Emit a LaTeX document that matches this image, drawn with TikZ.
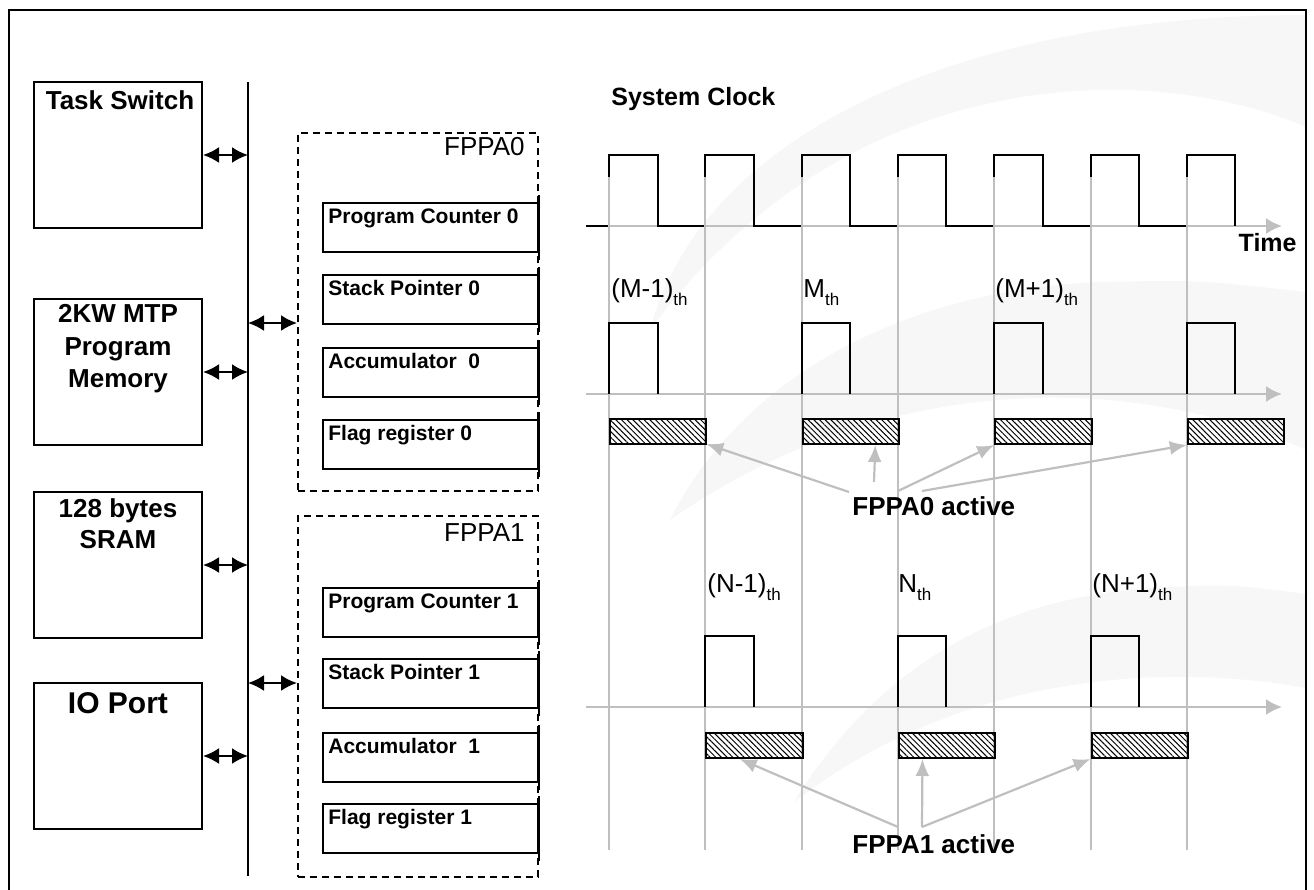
\documentclass[tikz,border=0pt]{standalone}
\usepackage{fontspec}
\setmainfont{Liberation Sans}
\usetikzlibrary{arrows.meta,patterns.meta,calc}
\newcommand\thsub[1]{\raisebox{-4pt}{\fontsize{8.5}{9}\selectfont #1}}
\begin{document}
\begin{tikzpicture}[x=0.5pt,y=-0.5pt,
  wm/.style={fill=black!3},
  frame/.style={line width=1pt},
  blk/.style={draw,line width=1pt,minimum width=84pt,minimum height=73pt,inner sep=0pt,anchor=north west},
  blktxt/.style={font=\fontsize{12.5}{16}\selectfont\bfseries,align=center,anchor=north,inner sep=0pt},
  dbl/.style={line width=1.1pt,{Latex[length=8pt,width=8pt]}-{Latex[length=8pt,width=8pt]}},
  fppa/.style={draw,dash pattern=on 3.5pt off 2.5pt,line width=1pt,minimum width=120pt,inner sep=0pt,anchor=north west},
  fppatxt/.style={font=\fontsize{13}{15}\selectfont,anchor=base east,inner sep=0pt},
  reg/.style={draw,line width=0.9pt,minimum width=107.5pt,minimum height=24.5pt,inner sep=0pt,anchor=north west},
  regtxt/.style={font=\fontsize{10.5}{12}\selectfont\bfseries,anchor=base west,inner sep=0pt},
  wave/.style={line width=1pt,line join=miter},
  gridl/.style={black!25,line width=1pt},
  axis/.style={black!25,line width=1.1pt,-{Latex[length=8pt,width=8pt]}},
  hatchbox/.style={draw,line width=1pt,minimum width=48.15pt,minimum height=12.5pt,inner sep=0pt,anchor=north west,
    pattern={Lines[angle=-45,distance=2pt,line width=0.5pt]}},
  garrow/.style={black!25,line width=1.1pt,-{Latex[length=8.5pt,width=7pt]}},
  lbl/.style={font=\fontsize{13}{15}\selectfont,anchor=base west,inner sep=0pt},
  blbl/.style={font=\fontsize{12.5}{15}\selectfont\bfseries,anchor=base west,inner sep=0pt}
]
\useasboundingbox (0,0) rectangle (1314,890);
% faint background swooshes
\fill[wm] (650,330) .. controls (700,140) and (950,15) .. (1306,15) -- (1306,127) .. controls (1150,60) and (850,60) .. (650,330) -- cycle;
\fill[wm] (670,520) .. controls (740,380) and (900,290) .. (1100,282) .. controls (1200,280) .. (1306,292) -- (1306,450) .. controls (1150,380) and (900,360) .. (670,520) -- cycle;
\fill[wm] (793,803) .. controls (870,680) and (980,600) .. (1150,588) .. controls (1230,584) .. (1306,594) -- (1306,688) .. controls (1150,660) and (950,680) .. (793,803) -- cycle;
% outer frame
\draw[frame] (9,900) -- (9,10) -- (1306,10) -- (1306,900);
% left blocks
\node[blk] (ts) at (33,81) {};
\node[blk] (mem) at (33,298) {};
\node[blk] (sram) at (33,491) {};
\node[blk] (io) at (33,682) {};
\node[blktxt,font=\fontsize{13}{16}\selectfont\bfseries] (tst) at ($(ts.north)+(2,9)$) {Task Switch};
\node[blktxt,font=\fontsize{13}{16.3}\selectfont\bfseries] (memt) at ($(mem.north)+(0,6)$) {2KW MTP\\Program\\Memory};
\node[blktxt,font=\fontsize{13}{15.6}\selectfont\bfseries] (sramt) at ($(sram.north)+(0,7)$) {128 bytes\\SRAM};
\node[blktxt,font=\fontsize{15}{18}\selectfont\bfseries] (iot) at ($(io.north)+(0,10)$) {IO Port};
% bus
\coordinate (busT) at (248,82);
\coordinate (busB) at (248,876);
\draw[line width=1pt] (busT) -- (busB);
\draw[dbl] (ts.east) -- (ts.east -| busT);
\draw[dbl] (mem.east) -- (mem.east -| busT);
\draw[dbl] (sram.east) -- (sram.east -| busT);
\draw[dbl] (io.east) -- (io.east -| busT);
% FPPA boxes
\node[fppa,minimum height=179pt] (fp0) at (297,132) {};
\node[fppa,minimum height=180.5pt] (fp1) at (297,515) {};
\node[fppatxt] (fp0t) at (525,155) {FPPA0};
\node[fppatxt] (fp1t) at (525,541) {FPPA1};
\coordinate (f0in) at (fp0.west |- 0,323);
\coordinate (f1in) at (fp1.west |- 0,683);
\draw[dbl] (f0in -| busT) -- (f0in);
\draw[dbl] (f1in -| busT) -- (f1in);
% registers
\foreach \nm/\lab/\yy in {pc0/Program Counter 0/202, sp0/Stack Pointer 0/274, acc0/Accumulator~~0/347, fl0/Flag register 0/419,
                          pc1/Program Counter 1/587, sp1/Stack Pointer 1/658, acc1/Accumulator~~1/732, fl1/Flag register 1/803}{
  \node[reg] (\nm) at (322,\yy) {};
  \node[regtxt] (t\nm) at ($(\nm.north west)+(6,21)$) {\lab};
  \draw[line width=1pt] ($(\nm.north east)+(0,-7)$) -- ($(\nm.south east)+(0,7)$);
}
% system clock
\node[blbl] (sysclk) at (611,105) {System Clock};
\coordinate (clkS) at (586,226);
\coordinate (clkE) at (1282,226);
\draw[axis] (clkS) -- (clkE);
\draw[wave] (clkS) \foreach \i in {0,...,6}{ -- ({609+96.3*\i},226) -- ({609+96.3*\i},155) -- ({657.5+96.3*\i},155) -- ({657.5+96.3*\i},226)};
\node[blbl,anchor=base east] (time) at (1297,251) {Time};
% grid lines
\foreach \i in {0,...,6} \draw[gridl] ({609+96.3*\i},177) -- ({609+96.3*\i},850);
% FPPA0 row
\coordinate (a0S) at (586,394);
\coordinate (a0E) at (1282,394);
\draw[axis] (a0S) -- (a0E);
\foreach \i in {0,2,4,6} \draw[wave] ({609+96.3*\i},394) -- ({609+96.3*\i},323) -- ({657.5+96.3*\i},323) -- ({657.5+96.3*\i},394);
\foreach \i in {0,2,4,6} \node[hatchbox] (h\i) at ({609+96.3*\i},418) {};
\node[lbl] (m1) at (611,297) {(M-1)\thsub{th}};
\node[lbl] (m0) at (803,297) {M\thsub{th}};
\node[lbl] (m2) at (995,297) {(M+1)\thsub{th}};
% FPPA1 row
\coordinate (a1S) at (586,707);
\coordinate (a1E) at (1282,707);
\draw[axis] (a1S) -- (a1E);
\foreach \i in {1,3,5} \draw[wave] ({609+96.3*\i},707) -- ({609+96.3*\i},636) -- ({657.5+96.3*\i},636) -- ({657.5+96.3*\i},707);
\foreach \i in {1,3,5} \node[hatchbox] (h\i) at ({609+96.3*\i},732) {};
\node[lbl] (n1) at (707,592) {(N-1)\thsub{th}};
\node[lbl] (n0) at (898,592) {N\thsub{th}};
\node[lbl] (n2) at (1092,592) {(N+1)\thsub{th}};
% active labels and arrows
\node[blbl,font=\fontsize{13}{15}\selectfont\bfseries] (act0) at (852,515) {FPPA0 active};
\node[blbl,font=\fontsize{13}{15}\selectfont\bfseries] (act1) at (852,853) {FPPA1 active};
\coordinate (s0a) at (849,492);
\coordinate (s0b) at (874,482);
\coordinate (s0c) at (898,491);
\coordinate (s0d) at (922,491);
\draw[garrow] (s0a) -- (h0.south east);
\draw[garrow] (s0b) -- ($(h2.south west)!0.75!(h2.south east)$);
\draw[garrow] (s0c) -- (h4.south west);
\draw[garrow] (s0d) -- (h6.south west);
\coordinate (s1a) at (898,827);
\coordinate (s1b) at (922,827);
\draw[garrow] (s1a) -- ($(h1.south west)!0.35!(h1.south east)$);
\draw[garrow] (s1b) -- ($(h3.south west)!0.25!(h3.south east)$);
\draw[garrow] (s1b) -- (h5.south west);
\end{tikzpicture}
\end{document}
